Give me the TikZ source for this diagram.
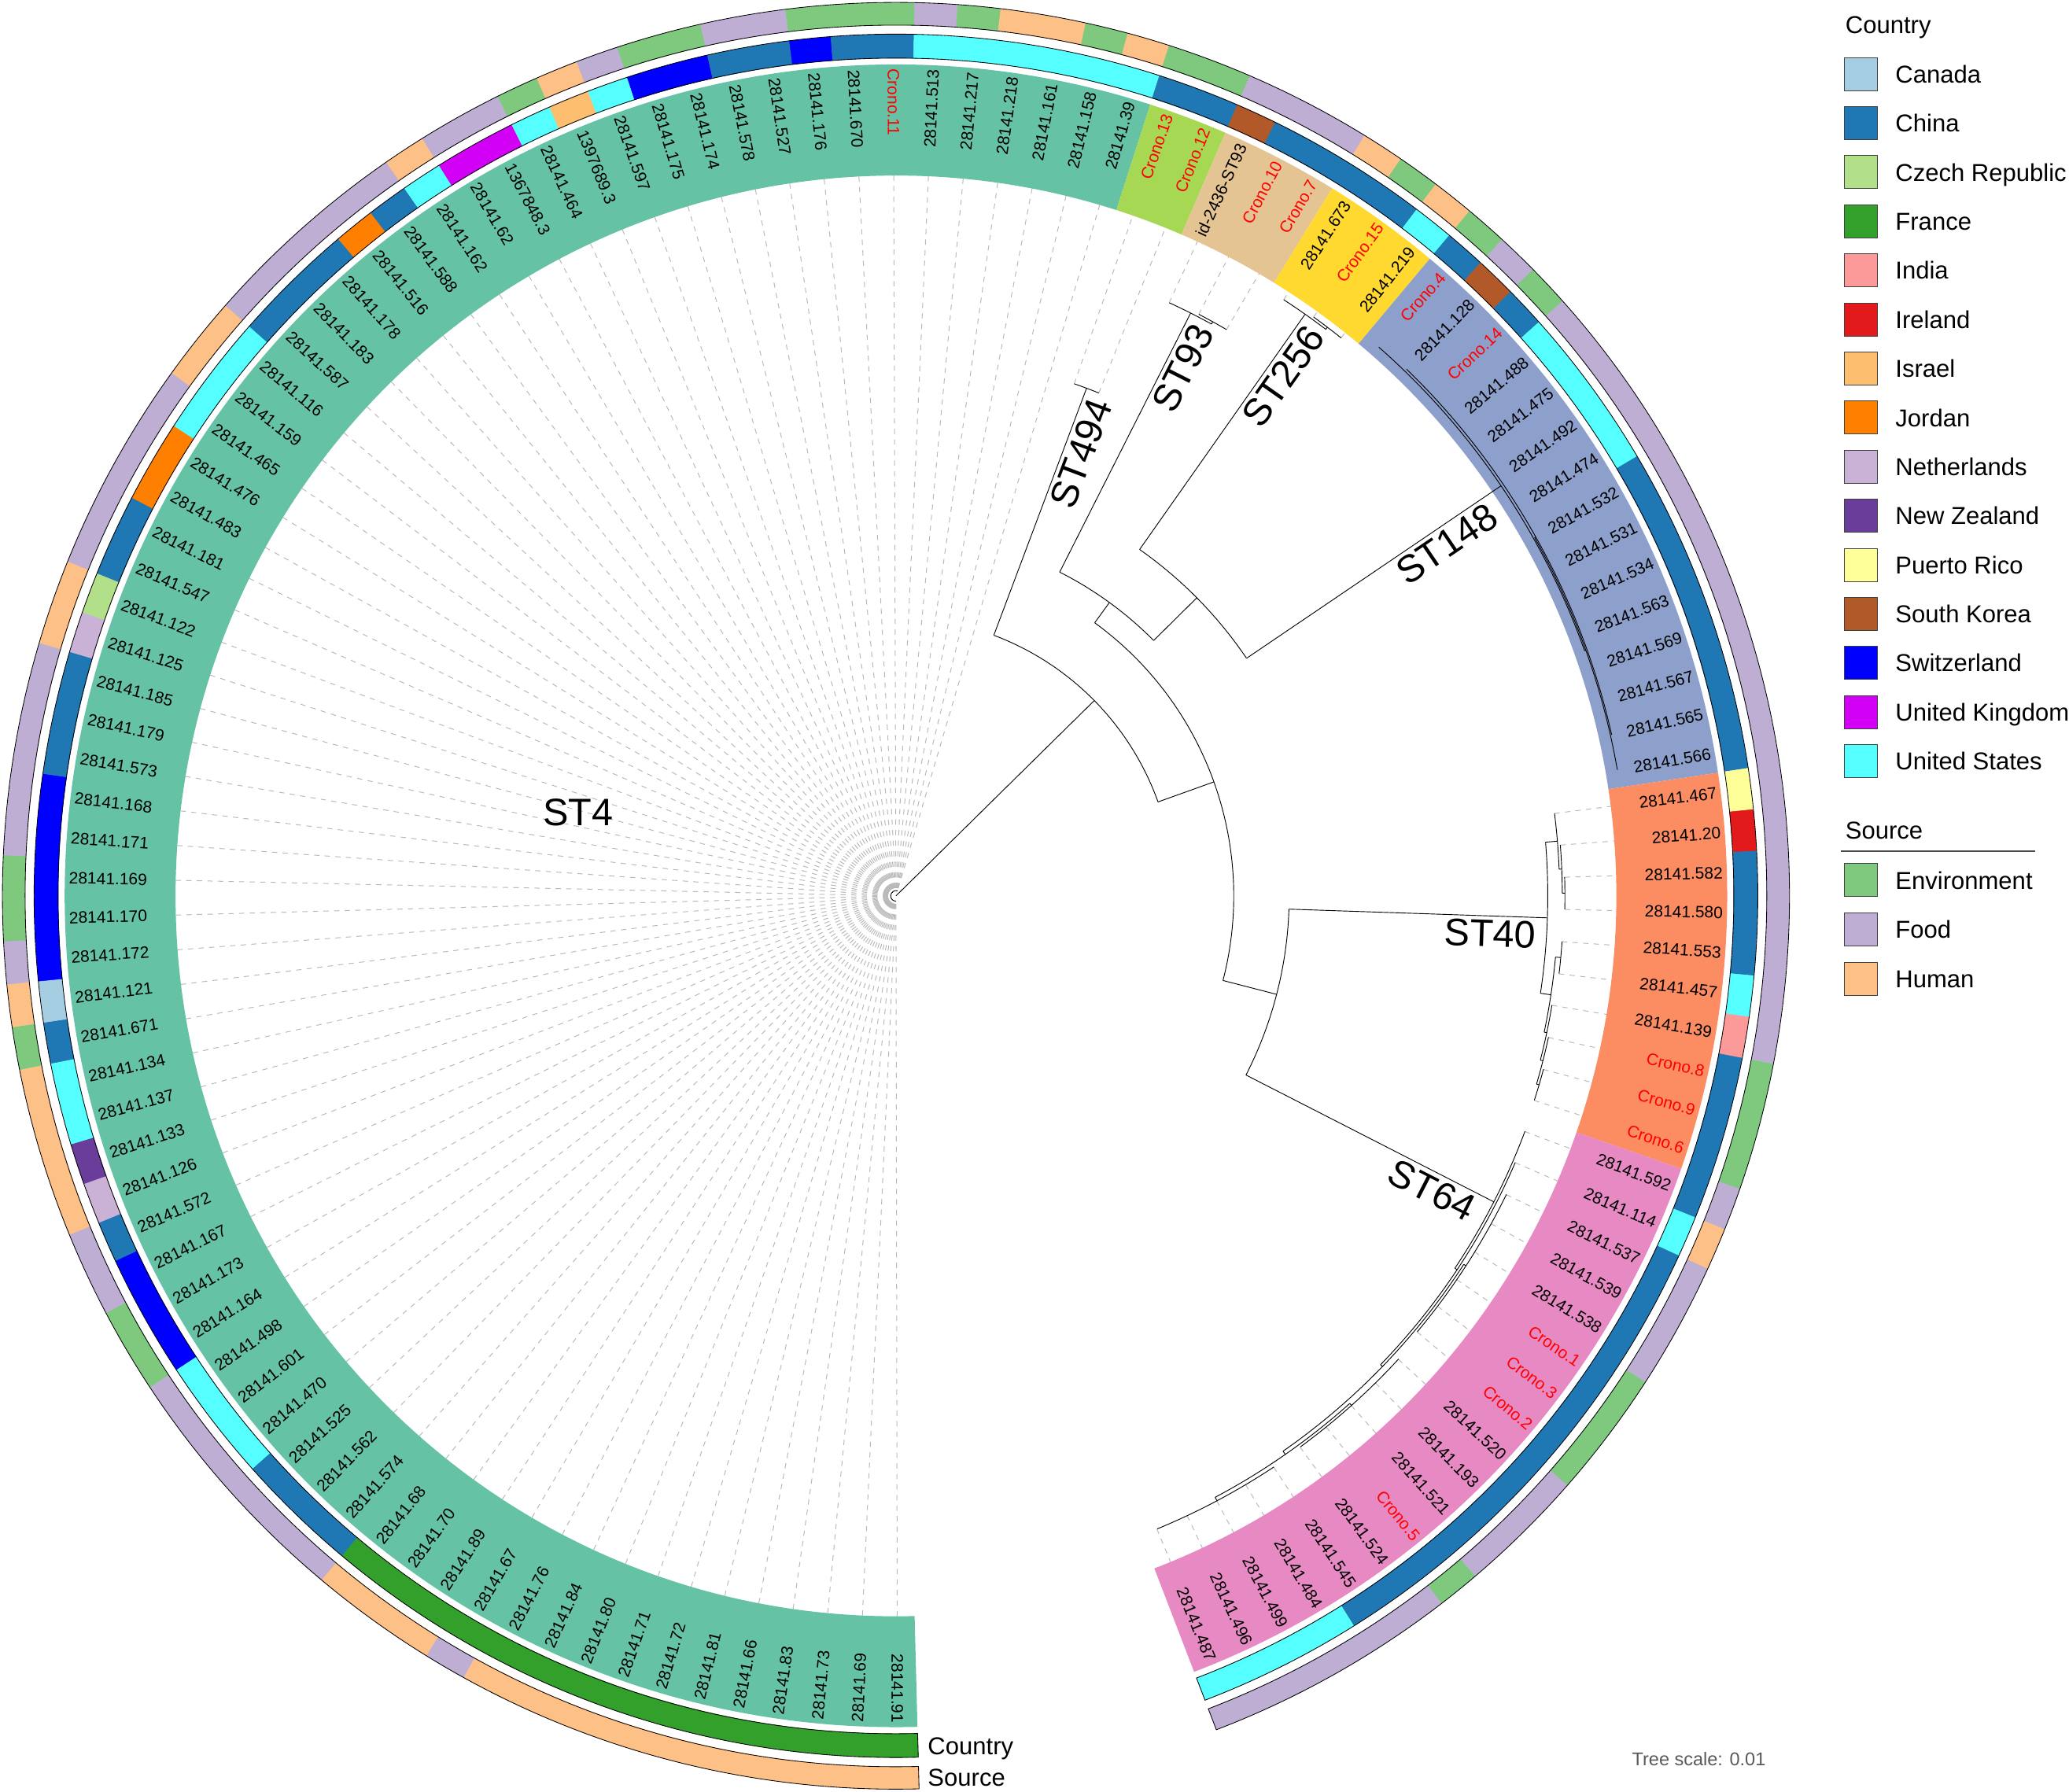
\documentclass[tikz,border=0pt]{standalone}
\usepackage{fontspec}
\setmainfont{Liberation Sans}
\usepackage{tikz}
\usetikzlibrary{positioning}

% country colours
\definecolor{cCan}{HTML}{A6CEE3}
\definecolor{cChi}{HTML}{1F78B4}
\definecolor{cCze}{HTML}{B2DF8A}
\definecolor{cFra}{HTML}{33A02C}
\definecolor{cInd}{HTML}{FB9A99}
\definecolor{cIre}{HTML}{E31A1C}
\definecolor{cIsr}{HTML}{FDBF6F}
\definecolor{cJor}{HTML}{FF7F00}
\definecolor{cNet}{HTML}{CAB2D6}
\definecolor{cNZ}{HTML}{6A3D9A}
\definecolor{cPR}{HTML}{FFFF99}
\definecolor{cSK}{HTML}{B15928}
\definecolor{cSwi}{HTML}{0000FF}
\definecolor{cUK}{HTML}{D200F5}
\definecolor{cUS}{HTML}{55FFFF}
% source colours
\definecolor{sEnv}{HTML}{7FC97F}
\definecolor{sFood}{HTML}{BEAED4}
\definecolor{sHum}{HTML}{FDC086}
% clade colours
\definecolor{kST4}{HTML}{66C2A5}
\definecolor{kST494}{HTML}{A6D854}
\definecolor{kST93}{HTML}{E5C494}
\definecolor{kST256}{HTML}{FFD92F}
\definecolor{kST148}{HTML}{8DA0CB}
\definecolor{kST40}{HTML}{FC8D62}
\definecolor{kST64}{HTML}{E78AC3}

% angle of leaf #1
\newcommand{\lfa}[1]{270.1-(#1-1)*2.768}
% ring piece over leaves #1..#2, radii #3..#4
\newcommand{\ringpart}[5]{%
  \path[#5] ({\lfa{#1}+1.384}:#3pt) arc[start angle={\lfa{#1}+1.384}, end angle={\lfa{#2}-1.384}, radius=#3pt]
    -- ({\lfa{#2}-1.384}:#4pt) arc[start angle={\lfa{#2}-1.384}, end angle={\lfa{#1}+1.384}, radius=#4pt] -- cycle;}
% tree pieces
\newcommand{\arcat}[3]{\draw[branch] (#2:#1pt) arc[start angle=#2, end angle=#3, radius=#1pt];}
\newcommand{\stem}[4]{\coordinate (#1a) at (#2:#3pt); \coordinate (#1) at (#2:#4pt); \draw[branch] (#1a) -- (#1);}

\begin{document}
\begin{tikzpicture}[x=1pt, y=1pt,
    branch/.style={black, line width=0.55pt},
    leafdash/.style={gray!55, line width=0.6pt, dash pattern=on 4pt off 4pt},
    leaflbl/.style={inner sep=0pt, font=\fontsize{12.5}{14}\selectfont},
    cladelbl/.style={inner sep=3pt, font=\fontsize{29}{32}\selectfont, anchor=north east},
    swatch/.style={draw=black!75, line width=0.6pt, minimum width=25pt, minimum height=25pt, inner sep=0pt},
    lgtext/.style={inner sep=0pt, anchor=west, text height=13.3pt, text depth=0pt, font=\fontsize{18.5}{20}\selectfont}]
    \useasboundingbox (-679,-679) rectangle (889,679);

    % dashed leaf guides
    \foreach \i in {1,...,72} \draw[leafdash] ({\lfa{\i}}:6pt) -- ({\lfa{\i}}:546pt);
    \foreach \i/\rt in {73/411, 74/411, 75/495, 76/497, 77/497, 78/539, 79/541, 80/541,
        96/503, 97/505, 98/507, 99/507, 100/506, 101/506, 102/504, 103/506, 104/508, 105/508,
        106/509, 107/511, 108/515, 109/515, 110/515, 111/515, 112/515, 113/515,
        114/518, 115/518, 116/518, 117/518, 118/518, 119/519, 120/519, 121/519, 122/519, 123/519}
        \draw[leafdash] ({\lfa{\i}}:\rt pt) -- ({\lfa{\i}}:546pt);

    % clade bands
    \ringpart{1}{72}{546}{630}{fill=kST4}
    \ringpart{73}{74}{546}{630}{fill=kST494}
    \ringpart{75}{77}{546}{630}{fill=kST93}
    \ringpart{78}{80}{546}{630}{fill=kST256}
    \ringpart{81}{95}{546}{630}{fill=kST148}
    \ringpart{96}{105}{546}{630}{fill=kST40}
    \ringpart{106}{123}{546}{630}{fill=kST64}

    % Country ring
    \foreach \fa/\fb/\cl in {1/15/cFra, 16/18/cChi, 19/21/cUS, 22/24/cSwi, 25/25/cChi, 26/26/cNet, 27/27/cNZ,
        28/29/cUS, 30/30/cChi, 31/31/cCan, 32/36/cSwi, 37/39/cChi, 40/40/cNet, 41/41/cCze, 42/43/cChi,
        44/45/cJor, 46/48/cUS, 49/51/cChi, 52/52/cJor, 53/53/cChi, 54/54/cUS, 55/56/cUK, 57/57/cUS,
        58/58/cIsr, 59/59/cUS, 60/61/cSwi, 62/63/cChi, 64/64/cSwi, 65/66/cChi, 67/72/cUS, 73/74/cChi,
        75/75/cSK, 76/79/cChi, 80/80/cUS, 81/81/cChi, 82/82/cSK, 83/83/cChi, 84/87/cUS, 88/95/cChi,
        96/96/cPR, 97/97/cIre, 98/100/cChi, 101/101/cUS, 102/102/cInd, 103/106/cChi, 107/107/cUS,
        108/119/cChi, 120/123/cUS}
        \ringpart{\fa}{\fb}{635}{653}{fill=\cl, draw=\cl, line width=0.3pt};
    \ringpart{1}{123}{635}{653}{draw=black, line width=0.5pt}
    % Source ring
    \foreach \fa/\fb/\cl in {1/11/sHum, 12/12/sFood, 13/15/sHum, 16/21/sFood, 22/23/sEnv, 24/25/sFood,
        26/29/sHum, 30/30/sEnv, 31/31/sHum, 32/32/sFood, 33/34/sEnv, 35/39/sFood, 40/41/sHum,
        42/46/sFood, 47/48/sHum, 49/53/sFood, 54/54/sHum, 55/56/sFood, 57/57/sEnv, 58/58/sHum,
        59/59/sFood, 60/61/sEnv, 62/63/sFood, 64/66/sEnv, 67/67/sFood, 68/68/sEnv, 69/70/sHum,
        71/71/sEnv, 72/72/sHum, 73/74/sEnv, 75/77/sFood, 78/78/sHum, 79/79/sEnv, 80/80/sHum,
        81/81/sEnv, 82/82/sFood, 83/83/sEnv, 84/102/sFood, 103/105/sEnv, 106/106/sFood,
        107/107/sHum, 108/110/sFood, 111/113/sEnv, 114/116/sFood, 117/117/sEnv, 118/123/sFood}
        \ringpart{\fa}{\fb}{660}{677}{fill=\cl, draw=\cl, line width=0.3pt};
    \ringpart{1}{123}{660}{677}{draw=black, line width=0.5pt}

    % tree
    \coordinate (root) at (0,0);
    \coordinate (A) at (44.57:211pt);
    \draw[branch] (root) -- (A);
    \draw[branch] (270.1:4pt) arc[start angle=270.1, end angle=73.6, radius=4pt];
    \arcat{211}{69.42}{19.73}
    \stem{ST494}{69.42}{211}{411} \arcat{411}{70.80}{68.03}
    \stem{B}{19.73}{211}{256} \arcat{256}{53.96}{-14.5}
    \stem{N1}{53.96}{256}{275} \arcat{275}{63.18}{44.74}
    \stem{ST93}{63.18}{275}{495} \arcat{495}{65.26}{61.11}
    \stem{ST93b}{61.11}{495}{497} \arcat{497}{62.49}{59.73}
    \stem{N2}{44.74}{275}{321} \arcat{321}{54.88}{34.13}
    \stem{ST256}{54.88}{321}{539} \arcat{539}{56.96}{52.81}
    \stem{ST256b}{52.81}{539}{541} \arcat{541}{54.19}{51.42}
    \stem{ST148}{34.13}{321}{554} \arcat{554}{48.66}{19.6}
    \stem{ST148b}{19.6}{554}{555} \arcat{555}{29.29}{9.92}
    \stem{ST148c}{29.29}{555}{556} \arcat{556}{45.89}{12.69}
    \stem{C}{-14.5}{256}{298} \arcat{298}{-1.93}{-27.1}
    \stem{ST40}{-1.93}{298}{494} \arcat{494}{4.73}{-8.59}
    \stem{ST40b}{4.73}{494}{503} \arcat{503}{7.15}{2.31}
    \stem{ST40c}{2.31}{503}{505} \arcat{505}{4.39}{0.235}
    \stem{ST40d}{0.235}{505}{507} \arcat{507}{1.62}{-1.15}
    \stem{ST40e}{-8.59}{494}{502} \arcat{502}{-5.3}{-11.87}
    \stem{ST40f}{-5.3}{502}{506} \arcat{506}{-3.92}{-6.68}
    \stem{ST40g}{-11.87}{502}{504} \arcat{504}{-9.45}{-14.30}
    \stem{ST40h}{-14.30}{504}{506} \arcat{506}{-12.22}{-16.37}
    \stem{ST40i}{-16.37}{506}{508} \arcat{508}{-14.99}{-17.75}
    \stem{ST64}{-27.1}{298}{509} \arcat{509}{-20.52}{-33.67}
    \stem{ST64b}{-33.67}{509}{511} \arcat{511}{-23.29}{-44.05}
    \stem{ST64c}{-44.05}{511}{513} \arcat{513}{-32.98}{-55.12}
    \stem{ST64d}{-32.98}{513}{515} \arcat{515}{-26.06}{-39.90}
    \stem{ST64e}{-55.12}{513}{516} \arcat{516}{-48.2}{-62.04}
    \stem{ST64f}{-48.2}{516}{518} \arcat{518}{-42.66}{-53.73}
    \stem{ST64g}{-62.04}{516}{519} \arcat{519}{-56.5}{-67.57}

    % clade labels
    \node (tST4) [cladelbl, anchor=center] at (-241,63) {ST4};
    \node (tST494) [cladelbl, rotate=69.42] at (69.42:409pt) {ST494};
    \node (tST93) [cladelbl, rotate=63.18] at (63.18:493pt) {ST93};
    \node (tST256) [cladelbl, rotate=54.88] at (54.88:537pt) {ST256};
    \node (tST148) [cladelbl, rotate=34.13] at (34.13:541pt) {ST148};
    \node (tST40) [cladelbl, rotate=-1.93] at (-1.93:489pt) {ST40};
    \node (tST64) [cladelbl, rotate=-27.1] at (-27.1:501pt) {ST64};

    % leaf labels
    \foreach \nm/\tc [count=\i] in {28141.91/black, 28141.69/black, 28141.73/black, 28141.83/black,
        28141.66/black, 28141.81/black, 28141.72/black, 28141.71/black, 28141.80/black, 28141.84/black,
        28141.76/black, 28141.67/black, 28141.89/black, 28141.70/black, 28141.68/black, 28141.574/black,
        28141.562/black, 28141.525/black, 28141.470/black, 28141.601/black, 28141.498/black,
        28141.164/black, 28141.173/black, 28141.167/black, 28141.572/black, 28141.126/black,
        28141.133/black, 28141.137/black, 28141.134/black, 28141.671/black, 28141.121/black,
        28141.172/black, 28141.170/black, 28141.169/black, 28141.171/black, 28141.168/black,
        28141.573/black, 28141.179/black, 28141.185/black, 28141.125/black, 28141.122/black,
        28141.547/black, 28141.181/black, 28141.483/black, 28141.476/black, 28141.465/black,
        28141.159/black, 28141.116/black, 28141.587/black, 28141.183/black, 28141.178/black,
        28141.516/black, 28141.588/black, 28141.162/black, 28141.62/black, 1367848.3/black,
        28141.464/black, 1397689.3/black, 28141.597/black, 28141.175/black, 28141.174/black,
        28141.578/black, 28141.527/black, 28141.176/black, 28141.670/black, Crono.11/red,
        28141.513/black, 28141.217/black, 28141.218/black, 28141.161/black, 28141.158/black,
        28141.39/black, Crono.13/red, Crono.12/red, id-2436-ST93/black, Crono.10/red, Crono.7/red,
        28141.673/black, Crono.15/red, 28141.219/black, Crono.4/red, 28141.128/black, Crono.14/red,
        28141.488/black, 28141.475/black, 28141.492/black, 28141.474/black, 28141.532/black,
        28141.531/black, 28141.534/black, 28141.563/black, 28141.569/black, 28141.567/black,
        28141.565/black, 28141.566/black, 28141.467/black, 28141.20/black, 28141.582/black,
        28141.580/black, 28141.553/black, 28141.457/black, 28141.139/black, Crono.8/red, Crono.9/red,
        Crono.6/red, 28141.592/black, 28141.114/black, 28141.537/black, 28141.539/black,
        28141.538/black, Crono.1/red, Crono.3/red, Crono.2/red, 28141.520/black, 28141.193/black,
        28141.521/black, Crono.5/red, 28141.524/black, 28141.545/black, 28141.484/black,
        28141.499/black, 28141.496/black, 28141.487/black}{
        \pgfmathsetmacro{\ang}{\lfa{\i}}
        \pgfmathtruncatemacro{\lft}{(\ang>90)&&(\ang<270)}
        \ifnum\lft=1
            \pgfmathsetmacro{\rot}{\ang-180}
            \node (l\i) [leaflbl, text=\tc, rotate=\rot, anchor=west] at (\ang:627pt) {\nm};
        \else
            \node (l\i) [leaflbl, text=\tc, rotate=\ang, anchor=east] at (\ang:627pt) {\nm};
        \fi
    }

    % ring names
    \node (ctyring) [lgtext] at (24,-644) {Country};
    \node (srcring) [lgtext] at (24,-668) {Source};

    % Legend
    \node (lgCountry) [lgtext] at (719.4,660.1) {Country};
    \foreach \cl/\tx [count=\k from 0] in {cCan/Canada, cChi/China, cCze/Czech Republic, cFra/France,
        cInd/India, cIre/Ireland, cIsr/Israel, cJor/Jordan, cNet/Netherlands, cNZ/New Zealand,
        cPR/Puerto Rico, cSK/South Korea, cSwi/Switzerland, cUK/United Kingdom, cUS/United States}{
        \node (csw\k) [swatch, fill=\cl, anchor=north west] at (718.7,{635.7-37.2*\k}) {};
        \node (ctx\k) [lgtext, right=13pt of csw\k] {\tx};
    }
    \node (lgSource) [lgtext] at (719.4,49.9) {Source};
    \coordinate (rulel) at (716.3,34);
    \coordinate (ruler) at (863.4,34);
    \draw[black!70, line width=0.8pt] (rulel) -- (ruler);
    \foreach \cl/\tx [count=\k from 0] in {sEnv/Environment, sFood/Food, sHum/Human}{
        \node (ssw\k) [swatch, fill=\cl, anchor=north west] at (718.7,{24.7-37.4*\k}) {};
        \node (stx\k) [lgtext, right=13pt of ssw\k] {\tx};
    }
    \node (tscale) [font=\fontsize{14}{16}\selectfont, text=black!65] at (608.5,-654) {Tree scale: 0.01};
\end{tikzpicture}
\end{document}
